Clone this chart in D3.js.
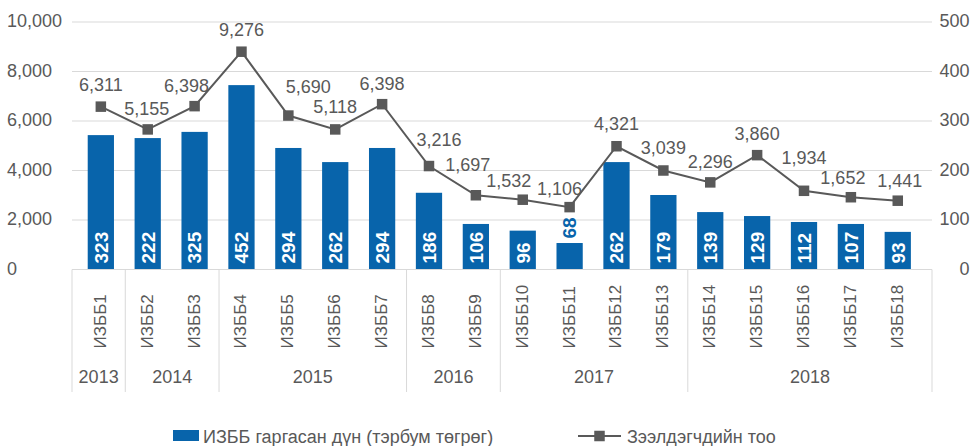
<!DOCTYPE html>
<html>
<head>
<meta charset="utf-8">
<script src="https://cdn.jsdelivr.net/npm/d3@7"></script>
<style>
  html, body { margin: 0; padding: 0; background: #fff; }
  svg { display: block; font-family: "Liberation Sans", Arial, sans-serif; }
</style>
</head>
<body>
<svg id="chart" width="972" height="446"></svg>
<script>
// Tranche names and issue years
const tranches = ["ИЗББ1","ИЗББ2","ИЗББ3","ИЗББ4","ИЗББ5","ИЗББ6","ИЗББ7","ИЗББ8","ИЗББ9",
                  "ИЗББ10","ИЗББ11","ИЗББ12","ИЗББ13","ИЗББ14","ИЗББ15","ИЗББ16","ИЗББ17","ИЗББ18"];
const years = [
  { year: "2013", first: 0, last: 0 },
  { year: "2014", first: 1, last: 2 },
  { year: "2015", first: 3, last: 6 },
  { year: "2016", first: 7, last: 8 },
  { year: "2017", first: 9, last: 12 },
  { year: "2018", first: 13, last: 17 }
];

// Bar heights on the left axis
const barValues = [5430, 5310, 5560, 7450, 4910, 4340, 4910, 3100, 1840,
                   1570, 1070, 4340, 3010, 2320, 2160, 1920, 1840, 1520];
// Amount labels printed on the bars (billion MNT)
const amountLabels = [323, 222, 325, 452, 294, 262, 294, 186, 106,
                      96, 68, 262, 179, 139, 129, 112, 107, 93];

// Line points on the right axis
const lineValues = [329, 283, 330, 440, 311, 283, 334, 209, 150,
                    141, 126, 249, 200, 176, 231, 159, 146, 139];
// Borrower count labels printed above the line
const borrowerLabels = [6311, 5155, 6398, 9276, 5690, 5118, 6398, 3216, 1697,
                        1532, 1106, 4321, 3039, 2296, 3860, 1934, 1652, 1441];

const leftTicks = [0, 2000, 4000, 6000, 8000, 10000];
const rightTicks = [0, 100, 200, 300, 400, 500];

const seriesNames = ["ИЗББ гаргасан дүн (тэрбум төгрөг)", "Зээлдэгчдийн тоо"];

// Hand-placed nudges [dx, dy] for the line labels so they clear the line
const labelNudge = [[0, 0], [-1, 1], [-8, 1], [0, 0], [20, -7.5], [0, -0.5], [0, 1], [10, -5], [-8, -9],
                    [-14, 2.5], [-10, 3], [0, -1], [0, -1], [0, 1], [0, 0], [0, -11], [-8, 2.5], [2, 2]];

const BLUE = "#0864AB";
const GREY = "#595959";
const GRID = "#d9d9d9";

const svg = d3.select("#chart");
const plotLeft = 72, plotRight = 932, plotTop = 22, plotBottom = 269.5;

const x = d3.scaleBand()
  .domain(tranches)
  .range([77.4, 921.2])
  .paddingInner(0.44)
  .paddingOuter(0.22);
const yL = d3.scaleLinear().domain([0, 10000]).range([plotBottom, plotTop]);
const yR = d3.scaleLinear().domain([0, 500]).range([plotBottom, plotTop]);
const cx = i => x(tranches[i]) + x.bandwidth() / 2;
const fmt = d3.format(",");

// Gridlines
svg.append("g").selectAll("line").data(leftTicks).join("line")
  .attr("x1", plotLeft).attr("x2", plotRight)
  .attr("y1", d => yL(d)).attr("y2", d => yL(d))
  .attr("stroke", GRID).attr("stroke-width", 1);

// Left axis labels
const leftAxis = d3.axisLeft(yL).tickValues(leftTicks).tickFormat(fmt).tickSize(0);
const gL = svg.append("g").attr("transform", `translate(7,0)`).call(leftAxis);
gL.select(".domain").remove();
gL.selectAll("text").attr("text-anchor", "start").attr("x", 0).attr("dy", "0.26em")
  .attr("fill", GREY).style("font-size", "18px").style("font-family", "Liberation Sans, Arial, sans-serif");

// Right axis labels
const rightAxis = d3.axisRight(yR).tickValues(rightTicks).tickFormat(fmt).tickSize(0);
const gR = svg.append("g").attr("transform", `translate(969.5,0)`).call(rightAxis);
gR.select(".domain").remove();
gR.selectAll("text").attr("text-anchor", "end").attr("x", 0).attr("dy", "0.26em")
  .attr("fill", GREY).style("font-size", "18px").style("font-family", "Liberation Sans, Arial, sans-serif");

// Bars
svg.append("g").selectAll("rect").data(barValues).join("rect")
  .attr("x", (d, i) => x(tranches[i]))
  .attr("width", x.bandwidth())
  .attr("y", d => yL(d))
  .attr("height", d => plotBottom - yL(d))
  .attr("fill", BLUE);

// Amount labels on bars (inside base; outside end when the bar is too short)
svg.append("g").selectAll("text").data(amountLabels).join("text")
  .each(function (d, i) {
    const short = (plotBottom - yL(barValues[i])) < 36;
    const yy = short ? yL(barValues[i]) - 4.5 : plotBottom - 6;
    d3.select(this)
      .attr("transform", `translate(${cx(i)},${yy}) rotate(-90)`)
      .attr("fill", short ? BLUE : "#fff");
  })
  .attr("text-anchor", "start")
  .attr("dy", "0.36em")
  .style("font-size", "19px").style("font-weight", "bold")
  .text(d => d);

// X axis line
svg.append("line").attr("x1", plotLeft).attr("x2", plotRight)
  .attr("y1", plotBottom).attr("y2", plotBottom).attr("stroke", GRID);

// Year group separators
const bandEdge = i => x(tranches[i]) - (x.step() - x.bandwidth()) / 2;
const sepX = [plotLeft].concat(years.slice(1).map(g => bandEdge(g.first) + 1)).concat([plotRight]);
svg.append("g").selectAll("line").data(sepX).join("line")
  .attr("x1", d => d).attr("x2", d => d)
  .attr("y1", plotBottom).attr("y2", 392)
  .attr("stroke", GRID);

// Tranche labels (rotated)
svg.append("g").selectAll("text").data(tranches).join("text")
  .attr("transform", (d, i) => `translate(${cx(i) - 1},348.5) rotate(-90)`)
  .attr("text-anchor", "start").attr("dy", "0.35em")
  .attr("fill", GREY).style("font-size", "17px")
  .text(d => d);

// Year labels
svg.append("g").selectAll("text").data(years).join("text")
  .attr("x", (g, k) => (sepX[k] + sepX[k + 1]) / 2)
  .attr("y", 383)
  .attr("text-anchor", "middle")
  .attr("fill", GREY).style("font-size", "18px")
  .text(g => g.year);

// Borrower line
const line = d3.line().x((d, i) => cx(i)).y(d => yR(d));
svg.append("path").datum(lineValues)
  .attr("d", line).attr("fill", "none")
  .attr("stroke", GREY).attr("stroke-width", 2);

// Square markers
const M = 10.5;
svg.append("g").selectAll("rect").data(lineValues).join("rect")
  .attr("x", (d, i) => cx(i) - M / 2).attr("y", d => yR(d) - M / 2)
  .attr("width", M).attr("height", M).attr("fill", GREY);

// Borrower labels above the markers
svg.append("g").selectAll("text").data(borrowerLabels).join("text")
  .attr("x", (d, i) => cx(i) + labelNudge[i][0])
  .attr("y", (d, i) => yR(lineValues[i]) - 15.5 + labelNudge[i][1])
  .attr("text-anchor", "middle")
  .attr("fill", GREY).style("font-size", "18px")
  .text(d => fmt(d));

// Legend
const lg = svg.append("g");
lg.append("rect").attr("x", 173).attr("y", 430).attr("width", 26).attr("height", 11).attr("fill", BLUE);
lg.append("text").attr("x", 203).attr("y", 442.5).attr("fill", GREY).style("font-size", "18px").text(seriesNames[0]);
lg.append("line").attr("x1", 578).attr("x2", 621).attr("y1", 436).attr("y2", 436)
  .attr("stroke", GREY).attr("stroke-width", 2);
lg.append("rect").attr("x", 599.5 - M / 2).attr("y", 436 - M / 2).attr("width", M).attr("height", M).attr("fill", GREY);
lg.append("text").attr("x", 627).attr("y", 442.5).attr("fill", GREY).style("font-size", "18px").text(seriesNames[1]);
</script>
</body>
</html>
